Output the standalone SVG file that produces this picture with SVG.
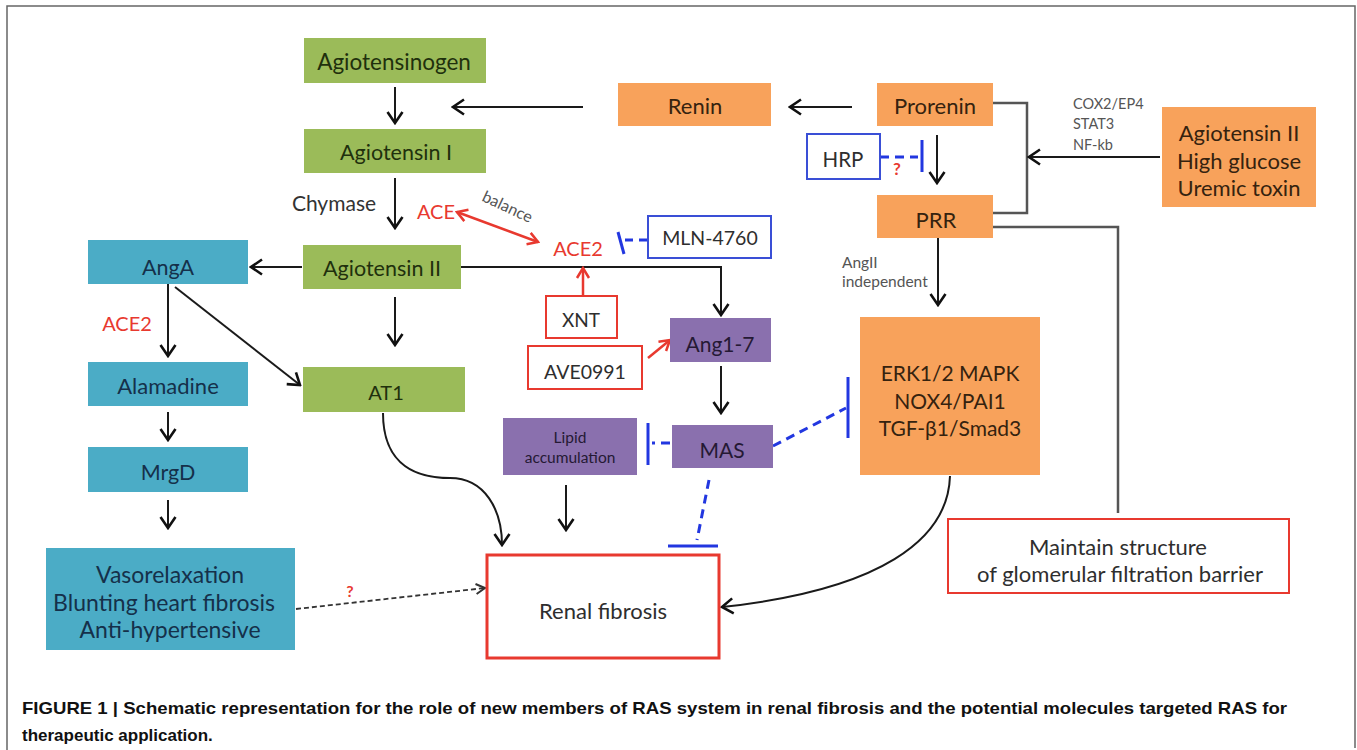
<svg xmlns="http://www.w3.org/2000/svg" width="1357" height="750" viewBox="0 0 1357 750">
<style>
text{font-family:Lato,"Open Sans","Liberation Sans",sans-serif;dominant-baseline:central;text-anchor:middle}
.g{fill:#9BBB59}.gt{fill:#1f300d;font-size:21.5px}
.c{fill:#4BACC6}.ct{fill:#15304a;font-size:21.5px}
.o{fill:#F8A25B}.ot{fill:#35220f;font-size:22px}
.p{fill:#8A70AE}.pt{fill:#251934;font-size:21px}
.bb{fill:#fff;stroke:#3a4fd6;stroke-width:2}
.rb{fill:#fff;stroke:#e8392f;stroke-width:2}
.bt{fill:#2e2e2e;font-size:19.5px}
.red{fill:#e8392f}
.sm{fill:#555;font-size:14.5px;text-anchor:start}
.k{fill:none;stroke:#1a1a1a;stroke-width:2}
.gr{fill:none;stroke:#555;stroke-width:2.5}
.rl{fill:none;stroke:#e8392f;stroke-width:2.5}
.bl{fill:none;stroke:#2237e0;stroke-width:3}
.bd{fill:none;stroke:#2237e0;stroke-width:3;stroke-dasharray:9,6}
.cap{font-family:"Liberation Sans",Arial,sans-serif;font-weight:bold;font-size:17px;fill:#111;text-anchor:start;dominant-baseline:alphabetic}
</style>
<defs>
<marker id="ah" viewBox="-13 -9 15 18" refX="0" refY="0" markerWidth="15" markerHeight="18" markerUnits="userSpaceOnUse" orient="auto"><path d="M-11,-7.5 L0,0 L-11,7.5" fill="none" stroke="#111" stroke-width="2.6"/></marker>
<marker id="ahr" viewBox="-12 -8 14 16" refX="0" refY="0" markerWidth="14" markerHeight="16" markerUnits="userSpaceOnUse" orient="auto-start-reverse"><path d="M-10,-6 L0,0 L-10,6" fill="none" stroke="#e8392f" stroke-width="2.5"/></marker>
<marker id="ahs" viewBox="-10 -7 12 14" refX="0" refY="0" markerWidth="12" markerHeight="14" markerUnits="userSpaceOnUse" orient="auto"><path d="M-9,-5 L0,0 L-9,5" fill="none" stroke="#333" stroke-width="2"/></marker>
</defs>
<rect width="1357" height="750" fill="#fff"/>
<path d="M7,750 V6 H1355 V748" fill="none" stroke="#666" stroke-width="1.5"/>

<g id="connectors">
<path class="k" d="M395,87 V123" marker-end="url(#ah)"/>
<path class="k" d="M583,107 H453" marker-end="url(#ah)"/>
<path class="k" d="M852,107 H790" marker-end="url(#ah)"/>
<path class="k" d="M395,178 V228" marker-end="url(#ah)"/>
<path class="k" d="M937,135 V183" marker-end="url(#ah)"/>
<path class="gr" d="M993,103 H1027 V213 H993"/>
<path class="k" d="M1160,157 H1029" marker-end="url(#ah)"/>
<path class="gr" d="M993,227 H1118 V513"/>
<path class="k" d="M938,238 V305" marker-end="url(#ah)"/>
<path class="k" d="M950,476 C948,540 880,590 722,607" marker-end="url(#ah)"/>
<path class="k" d="M383,413 C383,468 420,478 450,478 C485,478 502,510 502,545" marker-end="url(#ah)"/>
<path class="k" d="M566,485 V530" marker-end="url(#ah)"/>
<path class="k" d="M302,267 H251" marker-end="url(#ah)"/>
<path class="k" d="M168,284 V356" marker-end="url(#ah)"/>
<path class="k" d="M175,287 L300,385" marker-end="url(#ah)"/>
<path class="k" d="M395,297 V345" marker-end="url(#ah)"/>
<path class="k" d="M168,412 V440" marker-end="url(#ah)"/>
<path class="k" d="M168,500 V528" marker-end="url(#ah)"/>
<path d="M296,609 L485,588" fill="none" stroke="#333" stroke-width="1.8" stroke-dasharray="5,3" marker-end="url(#ahs)"/>
<path class="k" d="M461,267 H721 V315" marker-end="url(#ah)"/>
<path class="k" d="M721,366 V413" marker-end="url(#ah)"/>
<path class="rl" d="M457,212 L538,242" marker-start="url(#ahr)" marker-end="url(#ahr)"/>
<path class="rl" d="M583,296 V268" marker-end="url(#ahr)"/>
<path class="rl" d="M648,358 L670,340" marker-end="url(#ahr)"/>
<path class="bd" d="M880,157 H918"/>
<path class="bl" d="M922,140 V172"/>
<path class="bd" d="M648,240 H625"/>
<path class="bl" d="M618,232 L624,254"/>
<path class="bd" d="M670,443 H652"/>
<path class="bl" d="M648,423 V465"/>
<path class="bd" d="M773,446 L846,408"/>
<path class="bl" d="M848,377 V438"/>
<path class="bd" d="M709,480 L697,540"/>
<path class="bl" d="M668,546 H718"/>
</g>

<g id="n-agiotensinogen"><rect class="g" x="304" y="38" width="182" height="45"/><text class="gt" x="394" y="61" style="font-size:22.5px">Agiotensinogen</text></g>
<g id="n-agiotensin1"><rect class="g" x="304" y="129" width="182" height="44"/><text class="gt" x="396" y="152">Agiotensin I</text></g>
<g id="n-agiotensin2"><rect class="g" x="303" y="245" width="158" height="44"/><text class="gt" x="382" y="268">Agiotensin II</text></g>
<g id="n-at1"><rect class="g" x="303" y="367" width="162" height="45"/><text class="gt" x="386" y="392" style="font-size:20px">AT1</text></g>

<g id="n-anga"><rect class="c" x="88" y="240" width="160" height="44"/><text class="ct" x="168" y="267">AngA</text></g>
<g id="n-alamadine"><rect class="c" x="88" y="362" width="160" height="44"/><text class="ct" x="168" y="385" style="font-size:22px">Alamadine</text></g>
<g id="n-mrgd"><rect class="c" x="88" y="447" width="160" height="45"/><text class="ct" x="168" y="472">MrgD</text></g>
<g id="n-vaso"><rect class="c" x="46" y="548" width="249" height="102"/><text class="ct" x="170" y="574" style="font-size:23px">Vasorelaxation</text><text class="ct" x="164" y="602" style="font-size:23px">Blunting heart fibrosis</text><text class="ct" x="170" y="629" style="font-size:23px">Anti-hypertensive</text></g>

<g id="n-renin"><rect class="o" x="618" y="83" width="153" height="43"/><text class="ot" x="695" y="105">Renin</text></g>
<g id="n-prorenin"><rect class="o" x="877" y="83" width="116" height="43"/><text class="ot" x="935" y="105">Prorenin</text></g>
<g id="n-prr"><rect class="o" x="877" y="195" width="116" height="43"/><text class="ot" x="936" y="219">PRR</text></g>
<g id="n-stimuli"><rect class="o" x="1162" y="107" width="154" height="100"/><text class="ot" x="1239" y="132">Agiotensin II</text><text class="ot" x="1239" y="160">High glucose</text><text class="ot" x="1239" y="187">Uremic toxin</text></g>
<g id="n-erk"><rect class="o" x="860" y="317" width="180" height="158"/><text class="ot" x="950" y="372" style="font-size:21px">ERK1/2 MAPK</text><text class="ot" x="950" y="400" style="font-size:21px">NOX4/PAI1</text><text class="ot" x="950" y="427" style="font-size:21px">TGF-β1/Smad3</text></g>

<g id="n-ang17"><rect class="p" x="670" y="318" width="101" height="44"/><text class="pt" x="720" y="343">Ang1-7</text></g>
<g id="n-mas"><rect class="p" x="672" y="425" width="101" height="43"/><text class="pt" x="722" y="449">MAS</text></g>
<g id="n-lipid"><rect class="p" x="503" y="418" width="134" height="57"/><text class="pt" x="570" y="437" style="font-size:15.5px">Lipid</text><text class="pt" x="570" y="457" style="font-size:15.5px">accumulation</text></g>

<g id="n-hrp"><rect class="bb" x="807" y="134" width="73" height="45"/><text class="bt" x="843" y="159" style="font-size:20.5px">HRP</text></g>
<g id="n-mln"><rect class="bb" x="648" y="216" width="123" height="42"/><text class="bt" x="710" y="237">MLN-4760</text></g>
<g id="n-xnt"><rect class="rb" x="546" y="296" width="71" height="42"/><text class="bt" x="581" y="319" style="font-size:19px">XNT</text></g>
<g id="n-ave"><rect class="rb" x="528" y="346" width="114" height="43"/><text class="bt" x="585" y="371">AVE0991</text></g>
<g id="n-renal"><rect class="rb" x="487" y="555" width="232" height="103" style="stroke-width:3"/><text class="bt" x="603" y="610" style="font-size:22px">Renal fibrosis</text></g>
<g id="n-maintain"><rect class="rb" x="948" y="519" width="341" height="74"/><text class="bt" x="1118" y="546" style="font-size:22px">Maintain structure</text><text class="bt" x="1120" y="573" style="font-size:22px">of glomerular filtration barrier</text></g>

<g id="labels">
<text x="334" y="202" style="fill:#333;font-size:21px">Chymase</text>
<text class="red" x="436" y="211" style="font-size:20px">ACE</text>
<text x="508" y="206" transform="rotate(25 508 206)" style="fill:#555;font-size:16px">balance</text>
<text class="red" x="578" y="248" style="font-size:20px">ACE2</text>
<text class="red" x="127" y="323" style="font-size:20px">ACE2</text>
<text class="sm" x="1073" y="103">COX2/EP4</text>
<text class="sm" x="1073" y="123">STAT3</text>
<text class="sm" x="1073" y="144">NF-kb</text>
<text class="sm" x="842" y="262" style="font-size:15.5px">AngII</text>
<text class="sm" x="842" y="281" style="font-size:15.5px">independent</text>
<text class="red" x="897" y="168" style="font-size:17px;font-weight:bold">?</text>
<text class="red" x="350" y="590" style="font-size:16px;font-weight:bold">?</text>
</g>

<g id="caption">
<text class="cap" x="22" y="714" textLength="1265" lengthAdjust="spacingAndGlyphs">FIGURE 1 | Schematic representation for the role of new members of RAS system in renal fibrosis and the potential molecules targeted RAS for</text>
<text class="cap" x="22" y="741">therapeutic application.</text>
</g>
</svg>
